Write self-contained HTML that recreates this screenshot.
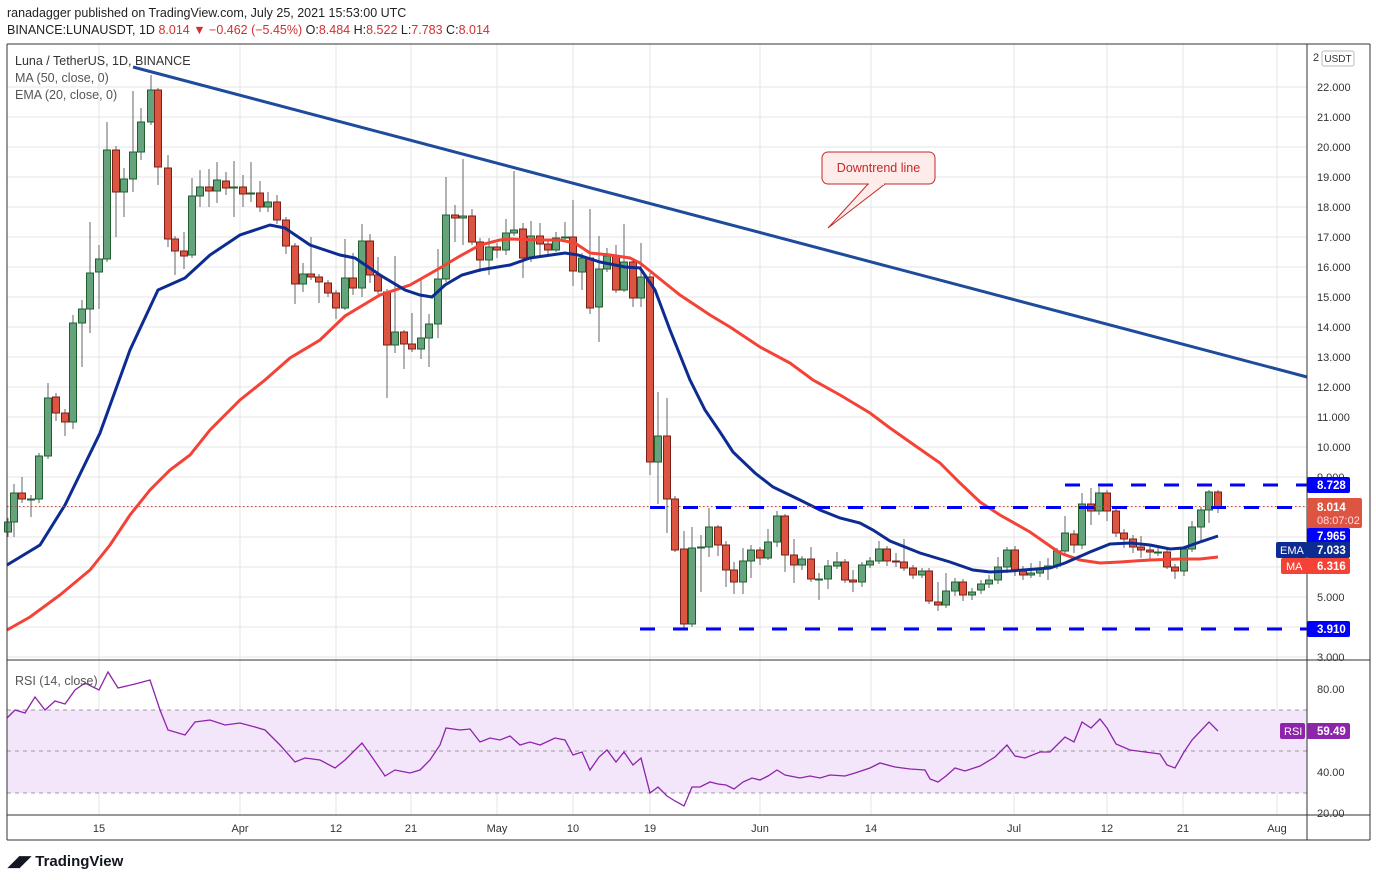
<!DOCTYPE html>
<html><head><meta charset="utf-8"><style>
body{margin:0;background:#fff;font-family:"Liberation Sans",Arial,sans-serif;}
svg{display:block}
text{font-family:"Liberation Sans",Arial,sans-serif}
</style></head><body>
<svg id="s" width="1376" height="880" viewBox="0 0 1376 880" xmlns="http://www.w3.org/2000/svg">
<rect width="1376" height="880" fill="#fff"/>
<text x="7" y="17" font-size="12.5" fill="#222">ranadagger published on TradingView.com, July 25, 2021 15:53:00 UTC</text>
<text x="7" y="34" font-size="12.5" fill="#222">BINANCE:LUNAUSDT, 1D <tspan fill="#d32f2f">8.014 ▼ −0.462 (−5.45%)</tspan> O:<tspan fill="#d32f2f">8.484</tspan> H:<tspan fill="#d32f2f">8.522</tspan> L:<tspan fill="#d32f2f">7.783</tspan> C:<tspan fill="#d32f2f">8.014</tspan></text>
<g id="grid" stroke="#e6e6e6" stroke-width="1"></g>
<rect x="7" y="710" width="1300" height="83" fill="#f3e6fb"/>
<g stroke="#999" stroke-dasharray="4,4" stroke-width="1">
<line x1="7" y1="710" x2="1307" y2="710"/><line x1="7" y1="751" x2="1307" y2="751"/><line x1="7" y1="793" x2="1307" y2="793"/></g>
<g id="cand"></g>
<polyline id="ma" fill="none" stroke="#f44336" stroke-width="3"/>
<polyline id="ema" fill="none" stroke="#0d2c91" stroke-width="3"/>
<line x1="133" y1="67" x2="1307" y2="377" stroke="#1e4b9b" stroke-width="3"/>
<line x1="7" y1="506.5" x2="1307" y2="506.5" stroke="#e53935" stroke-width="1" stroke-dasharray="1.5,2.5"/>
<g stroke="#0000ff" stroke-width="3" stroke-dasharray="15,18">
<line x1="1065" y1="485" x2="1307" y2="485"/>
<line x1="650" y1="507.5" x2="1307" y2="507.5"/>
<line x1="640" y1="629" x2="1307" y2="629"/></g>
<polyline id="rsi" fill="none" stroke="#8e24aa" stroke-width="1.3"/>
<path d="M828,228 L868,184 L885,184 Z" fill="#fdecea" stroke="#c62828" stroke-width="1"/>
<rect x="822" y="152" width="113" height="32" rx="6" fill="#fdecea" stroke="#c62828"/>
<line x1="869" y1="184" x2="884" y2="184" stroke="#fdecea" stroke-width="2"/>
<text x="878.5" y="172" font-size="12.5" fill="#c62828" text-anchor="middle">Downtrend line</text>
<text x="15" y="65" font-size="12.5" fill="#333">Luna / TetherUS, 1D, BINANCE</text>
<text x="15" y="82" font-size="12.5" fill="#555">MA (50, close, 0)</text>
<text x="15" y="99" font-size="12.5" fill="#555">EMA (20, close, 0)</text>
<text x="15" y="685" font-size="12.5" fill="#555">RSI (14, close)</text>
<g stroke="#333" stroke-width="1" fill="none">
<line x1="7" y1="44" x2="7" y2="840"/><line x1="1307" y1="44" x2="1307" y2="840"/>
<line x1="7" y1="660" x2="1370" y2="660"/><line x1="7" y1="815" x2="1370" y2="815"/>
<line x1="1370" y1="44" x2="1370" y2="840"/><line x1="7" y1="44" x2="1370" y2="44"/><line x1="7" y1="840" x2="1370" y2="840"/></g>
<g id="ax" font-size="11" fill="#333"></g>
<text x="1313" y="61" font-size="11" fill="#333">2</text>
<rect x="1322" y="51" width="32" height="15" rx="2" fill="#fff" stroke="#bbb"/>
<text x="1338" y="62" font-size="10" fill="#333" text-anchor="middle">USDT</text>
<rect x="1307" y="477" width="43" height="16" rx="2" fill="#0000ff"/><text x="1317" y="489" font-size="11.5" font-weight="bold" fill="#fff">8.728</text>
<rect x="1307" y="498" width="55" height="30" rx="2" fill="#dd5440"/><text x="1317" y="511" font-size="11.5" font-weight="bold" fill="#fff">8.014</text><text x="1317" y="524" font-size="11" fill="#fde">08:07:02</text>
<rect x="1307" y="528" width="43" height="16" rx="2" fill="#0000ff"/><text x="1317" y="540" font-size="11.5" font-weight="bold" fill="#fff">7.965</text>
<rect x="1276" y="542" width="31" height="16" rx="2" fill="#0d2c91"/><text x="1280" y="554" font-size="11" fill="#fff">EMA</text>
<rect x="1307" y="542" width="43" height="16" rx="2" fill="#0d2c91"/><text x="1317" y="554" font-size="11.5" font-weight="bold" fill="#fff">7.033</text>
<rect x="1281" y="558" width="26" height="16" rx="2" fill="#f44336"/><text x="1286" y="570" font-size="11" fill="#fff">MA</text>
<rect x="1307" y="558" width="43" height="16" rx="2" fill="#f44336"/><text x="1317" y="570" font-size="11.5" font-weight="bold" fill="#fff">6.316</text>
<rect x="1307" y="621" width="43" height="16" rx="2" fill="#0000ff"/><text x="1317" y="633" font-size="11.5" font-weight="bold" fill="#fff">3.910</text>
<rect x="1280" y="723" width="25" height="16" rx="2" fill="#8e24aa"/><text x="1284" y="735" font-size="11" fill="#fff">RSI</text>
<rect x="1307" y="723" width="43" height="16" rx="2" fill="#8e24aa"/><text x="1317" y="735" font-size="11.5" font-weight="bold" fill="#fff">59.49</text>
<text x="8" y="866" font-size="15" font-weight="bold" fill="#131722">◢◤ TradingView</text>
</svg>
<script>
var NS="http://www.w3.org/2000/svg";
function el(p,t,a){var e=document.createElementNS(NS,t);for(var k in a)e.setAttribute(k,a[k]);p.appendChild(e);return e;}
var grid=document.getElementById('grid'),ax=document.getElementById('ax');
var tx=[[99,'15'],[240,'Apr'],[336,'12'],[411,'21'],[497,'May'],[573,'10'],[650,'19'],[760,'Jun'],[871,'14'],[1014,'Jul'],[1107,'12'],[1183,'21'],[1277,'Aug']];
tx.forEach(function(t){el(grid,'line',{x1:t[0],y1:44,x2:t[0],y2:815});var q=el(ax,'text',{x:t[0],y:832,'text-anchor':'middle'});q.textContent=t[1];});
for(var p=3;p<=22;p++){var y=87+(22-p)*30;el(grid,'line',{x1:7,y1:y,x2:1307,y2:y});
 if([4,6,7,8].indexOf(p)<0){var q=el(ax,'text',{x:1317,y:y+4});q.textContent=p.toFixed(3);}}
[[80,689],[40,772],[20,813]].forEach(function(r){var q=el(ax,'text',{x:1317,y:r[1]+4});q.textContent=r[0].toFixed(2);});
// candles: x, open, close, high, low (pixel y)
var C=[[8,532,522,518,537],[14,522,493,484,537],[22,493,499,477,503],[31,499,499,495,517],[39,499,456,453,503],[48,456,398,383,459],[56,397,413,393,421],[65,413,422,409,436],[73,422,323,315,429],[82,323,309,300,367],[90,309,273,222,333],[99,272,259,245,309],[107,259,150,122,262],[116,150,192,146,237],[124,192,179,168,217],[133,179,152,91,192],[141,152,122,108,160],[151,122,90,75,125],[158,90,167,88,185],[168,168,239,155,247],[175,239,251,236,275],[184,251,256,232,269],[192,255,196,178,258],[200,196,187,170,207],[209,187,191,169,207],[217,191,180,162,203],[226,181,188,172,195],[234,187,187,161,217],[243,187,194,175,207],[251,193,193,162,202],[260,193,207,181,212],[268,207,202,192,212],[277,202,220,195,224],[286,220,246,217,254],[295,246,284,243,304],[303,284,274,263,292],[311,274,277,237,280],[319,277,282,274,303],[328,283,293,280,297],[336,293,308,290,319],[345,308,278,239,310],[353,278,288,253,295],[362,288,241,224,297],[370,241,275,234,283],[378,275,291,257,294],[387,292,345,289,398],[395,345,332,256,353],[404,332,344,330,369],[412,344,349,313,352],[421,349,338,279,359],[429,338,324,314,367],[438,324,279,249,338],[446,279,215,177,282],[455,215,218,205,242],[463,218,216,159,245],[472,216,242,209,245],[480,242,260,238,272],[489,260,247,238,275],[497,247,250,243,258],[506,250,233,219,255],[514,233,230,171,236],[523,229,258,223,278],[531,258,236,221,262],[540,236,244,223,257],[548,244,250,241,255],[556,250,238,232,252],[565,237,237,222,240],[573,237,271,200,286],[582,272,258,253,290],[590,258,308,209,314],[599,307,269,236,342],[607,269,256,248,272],[616,256,290,245,293],[624,290,262,224,292],[633,262,298,258,307],[641,298,277,243,307],[650,277,462,273,475],[658,462,436,392,504],[667,436,499,398,533],[675,499,550,496,552],[684,549,624,531,629],[692,624,548,527,627],[701,547,547,535,592],[709,547,527,508,557],[718,527,545,525,556],[726,545,570,541,587],[734,570,582,562,594],[743,582,561,548,594],[751,561,550,545,578],[760,550,558,547,565],[768,558,542,529,560],[777,542,516,511,547],[785,516,555,514,572],[794,555,565,539,583],[802,565,559,556,570],[811,559,579,547,582],[819,579,579,573,600],[828,579,566,560,589],[837,566,562,552,569],[845,562,580,559,583],[853,580,582,570,592],[862,582,565,562,587],[870,565,561,557,568],[879,561,549,541,564],[887,549,561,546,566],[896,561,562,553,567],[904,562,568,539,571],[913,568,575,565,579],[922,575,571,568,578],[929,571,601,568,604],[938,602,605,582,611],[946,605,591,573,608],[955,591,582,578,596],[963,582,595,579,601],[972,595,592,588,600],[981,590,584,580,594],[989,584,580,575,588],[998,580,567,557,584],[1007,567,550,547,573],[1015,550,571,546,576],[1023,571,575,566,580],[1031,575,573,563,578],[1040,573,568,561,577],[1048,568,566,558,580],[1057,566,551,548,569],[1065,551,533,516,554],[1074,534,545,530,553],[1082,545,504,493,549],[1091,504,511,488,525],[1099,511,493,487,515],[1107,493,511,490,521],[1116,511,533,506,537],[1124,533,539,529,548],[1133,539,547,535,553],[1141,547,550,536,558],[1150,550,552,545,559],[1158,552,552,548,556],[1167,552,567,549,569],[1175,567,571,564,579],[1184,571,549,547,576],[1192,549,527,521,552],[1201,527,510,507,541],[1209,510,492,490,523],[1218,492,507,490,513]];
var g=document.getElementById('cand');
C.forEach(function(c){var x=c[0],up=c[2]<=c[1];
 el(g,'line',{x1:x,y1:c[3],x2:x,y2:c[4],stroke:'#666','stroke-width':1});
 var t=Math.min(c[1],c[2]),h=Math.max(1,Math.abs(c[1]-c[2]));
 el(g,'rect',{x:x-3.5,y:t,width:7,height:h,fill:up?'#65a37d':'#dd5440',stroke:up?'#1f5f2e':'#7a1f1a','stroke-width':1});});
document.getElementById('ema').setAttribute('points',"7,565 40,545 65,505 100,433 130,350 158,290 185,278 210,255 240,235 270,225 285,228 310,245 340,255 355,258 380,275 405,290 420,295 432,297 445,285 462,275 480,270 510,265 530,258 565,253 578,255 600,262 625,267 640,268 655,290 670,330 690,380 705,410 720,432 733,452 755,473 773,487 800,500 820,510 840,518 860,523 873,530 890,541 920,553 950,562 973,570 990,572 1010,571 1050,568 1065,563 1090,552 1110,544 1130,543 1150,545 1170,549 1183,548 1200,542 1218,536");
document.getElementById('ma').setAttribute('points',"7,630 30,617 60,595 90,570 110,545 130,515 150,490 170,470 190,455 210,430 240,400 265,380 290,358 320,340 345,316 380,295 410,285 440,268 460,256 480,245 500,240 510,239 540,240 560,240 575,243 590,253 610,255 630,258 640,263 655,275 680,295 710,315 730,327 760,347 790,363 813,380 840,395 870,413 890,428 917,447 940,463 960,483 980,502 1000,515 1030,532 1060,553 1080,560 1100,563 1120,562 1150,560 1180,559 1200,559 1218,557");
document.getElementById('rsi').setAttribute('points',"7,718 15,710 25,713 35,697 45,710 55,701 65,704 75,690 85,683 99,690 108,672 118,688 135,684 150,680 160,710 168,730 185,735 195,722 210,720 225,725 240,723 255,727 265,730 280,745 295,762 305,758 320,760 335,768 345,760 355,750 362,743 372,757 385,776 395,770 410,773 420,770 430,760 440,745 446,728 460,730 470,729 480,742 490,738 500,740 510,736 520,745 530,742 540,745 555,738 565,740 573,755 582,752 590,770 599,757 607,750 616,762 624,752 633,765 641,758 650,793 658,787 667,796 675,801 684,806 692,787 700,787 710,782 718,784 726,785 734,789 743,782 752,778 760,780 768,776 777,770 785,775 800,778 810,776 820,778 830,775 845,776 855,773 870,768 880,763 895,767 910,769 925,770 930,779 938,782 946,776 955,768 965,771 980,766 995,757 1007,745 1015,756 1025,758 1040,752 1050,752 1057,745 1065,737 1074,742 1082,722 1091,728 1100,719 1107,728 1116,744 1130,750 1145,752 1160,754 1167,765 1175,768 1184,752 1192,740 1209,722 1218,731");
</script>
</body></html>
